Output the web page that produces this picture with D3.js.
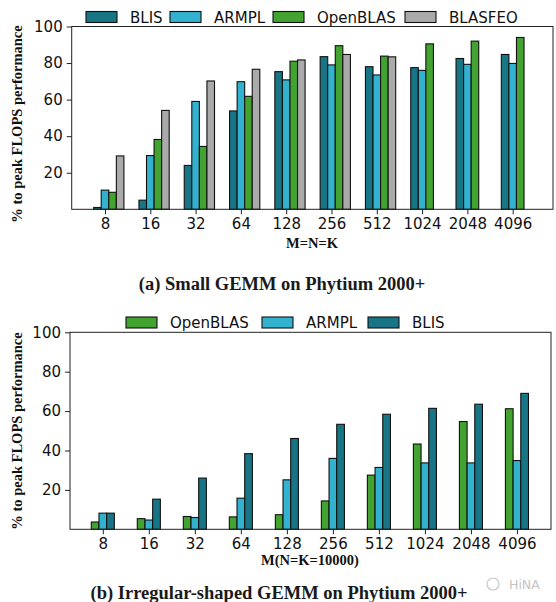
<!DOCTYPE html>
<html><head><meta charset="utf-8">
<script src="https://cdn.jsdelivr.net/npm/d3@7"></script>
<style>body{margin:0;background:#fff}svg{display:block}</style>
</head><body>
<svg id="chart" width="556" height="602"></svg>
<script>
// ---------- data ----------
const categories = ["8","16","32","64","128","256","512","1024","2048","4096"];
const yTicks = [20, 40, 60, 80, 100];

// (a) Small GEMM
const seriesA = ["BLIS", "ARMPL", "OpenBLAS", "BLASFEO"];
const blisA     = [1.0, 5.0, 24.0, 53.8, 75.3, 83.5, 78.0, 77.5, 82.5, 84.7];
const armplA    = [10.5, 29.4, 59.0, 69.8, 70.8, 79.0, 73.5, 76.0, 79.3, 79.8];
const openblasA = [9.3, 38.2, 34.4, 61.8, 81.0, 89.5, 83.8, 90.5, 92.0, 94.0];
const blasfeoA  = [29.2, 54.1, 70.2, 76.6, 81.7, 84.7, 83.4, 0, 0, 0];

// (b) Irregular-shaped GEMM
const seriesB = ["OpenBLAS", "ARMPL", "BLIS"];
const openblasB = [3.7, 5.4, 6.5, 6.3, 7.4, 14.4, 27.5, 43.3, 54.7, 61.2];
const armplB    = [8.2, 4.7, 6.0, 15.8, 25.1, 36.0, 31.4, 33.7, 33.7, 34.9];
const blisB     = [8.2, 15.3, 26.0, 38.4, 46.1, 53.3, 58.4, 61.4, 63.5, 69.0];

const colors = {BLIS: "#177586", ARMPL: "#33b2d0", OpenBLAS: "#42a331", BLASFEO: "#aaaaaa"};

const svg = d3.select("#chart");
const tickFont = "'DejaVu Sans', sans-serif";
const serif = "'Liberation Serif', 'Times New Roman', serif";

function panel(opt) {
  const g = svg.append("g");
  const x = d3.scaleLinear().domain(opt.xDomain).range([opt.left, opt.right]);
  const y = d3.scaleLinear().domain([0, 100]).range([opt.bottom, opt.top]);
  const step = x(1) - x(0);
  const bw = step * 0.167;

  opt.series.forEach((name, k) => {
    const vals = opt.values[k];
    g.append("g").selectAll("rect").data(vals).join("rect")
      .attr("x", (d, i) => x(i) + (k - 1) * bw - bw / 2)
      .attr("width", bw)
      .attr("y", d => y(d))
      .attr("height", d => y(0) - y(d))
      .attr("fill", colors[name])
      .attr("stroke", "#111")
      .attr("stroke-width", 1.1);
  });

  // frame
  g.append("rect").attr("x", opt.left).attr("y", opt.top)
    .attr("width", opt.right - opt.left).attr("height", opt.bottom - opt.top)
    .attr("fill", "none").attr("stroke", "#222").attr("stroke-width", 1);

  const xa = g.append("g").attr("transform", `translate(0,${opt.bottom})`)
    .call(d3.axisBottom(x).tickValues(d3.range(categories.length))
      .tickFormat(i => categories[i]).tickSize(5).tickPadding(4).tickSizeOuter(0));
  const ya = g.append("g").attr("transform", `translate(${opt.left},0)`)
    .call(d3.axisLeft(y).tickValues(yTicks).tickSize(5).tickPadding(4).tickSizeOuter(0));
  [xa, ya].forEach(a => {
    a.select(".domain").remove();
    a.selectAll("text").attr("font-family", tickFont).attr("font-size", 15).attr("fill", "#111");
    a.selectAll("line").attr("stroke", "#222");
  });

  // x label
  g.append("text").attr("x", opt.xLabelX).attr("y", opt.xLabelY)
    .attr("text-anchor", "middle").attr("font-family", serif).attr("font-weight", "bold")
    .attr("font-size", 14.5).attr("fill", "#111").text(opt.xLabel);
  // y label
  g.append("text").attr("transform", `translate(22,${opt.yLabelY}) rotate(-90)`)
    .attr("text-anchor", "middle").attr("font-family", serif).attr("font-weight", "bold")
    .attr("font-size", 14.5).attr("fill", "#111").text("% to peak FLOPS performance");
  // caption
  g.append("text").attr("x", opt.capX).attr("y", opt.capY)
    .attr("text-anchor", "middle").attr("font-family", serif).attr("font-weight", "bold")
    .attr("font-size", 18.5).attr("fill", "#1a1a1a").text(opt.caption);

  // legend
  opt.series.forEach((name, k) => {
    const lx = opt.legendX[k];
    g.append("rect").attr("x", lx).attr("y", opt.legendY - 5.5).attr("width", 31).attr("height", 11)
      .attr("fill", colors[name]).attr("stroke", "#111").attr("stroke-width", 1.1);
    g.append("text").attr("x", lx + 44).attr("y", opt.legendY + 5.5)
      .attr("font-family", tickFont).attr("font-size", 15).attr("fill", "#111").text(name);
  });
}

panel({
  series: seriesA, values: [blisA, armplA, openblasA, blasfeoA],
  left: 71.7, right: 553, top: 26.5, bottom: 209.3, xDomain: [-0.735, 9.89],
  xLabel: "M=N=K", xLabelX: 312, xLabelY: 248, yLabelY: 124,
  caption: "(a) Small GEMM on Phytium 2000+", capX: 282, capY: 290,
  legendX: [86, 170, 273, 405], legendY: 17
});

panel({
  series: seriesB, values: [openblasB, armplB, blisB],
  left: 70, right: 551, top: 332.3, bottom: 529.3, xDomain: [-0.713, 9.74],
  xLabel: "M(N=K=10000)", xLabelX: 310, xLabelY: 564.5, yLabelY: 431,
  caption: "(b) Irregular-shaped GEMM on Phytium 2000+", capX: 279, capY: 599,
  legendX: [126, 262, 368], legendY: 322.5
});

// watermark
const wm = svg.append("g").attr("fill", "none").attr("stroke", "#c8c8c8").attr("stroke-width", 1.2);
wm.append("circle").attr("cx", 493).attr("cy", 584).attr("r", 6);
svg.append("text").attr("x", 509).attr("y", 589).attr("font-family", tickFont)
  .attr("font-size", 12.5).attr("fill", "#c4c4c4").text("HiNA");
</script>
</body></html>
